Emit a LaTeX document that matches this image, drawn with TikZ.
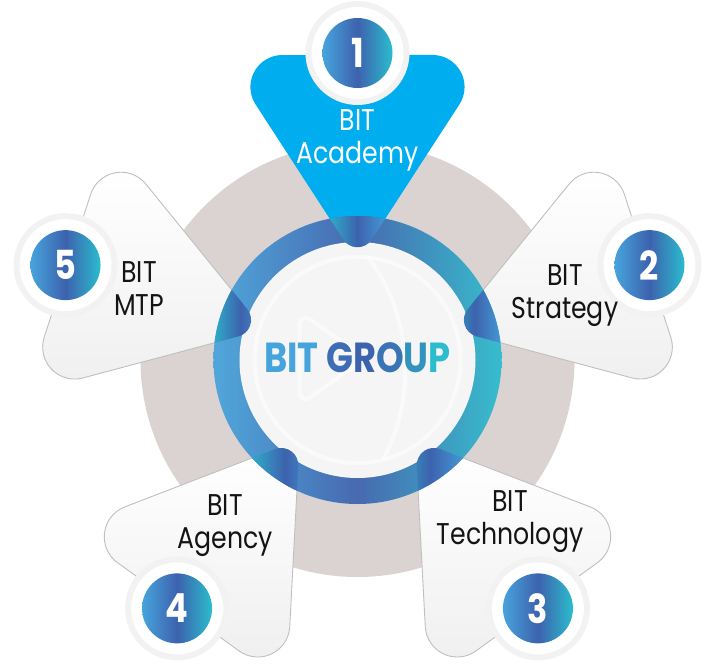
\documentclass[tikz,border=0pt]{standalone}
\usepackage{fontspec}
\setmainfont{Poppins}[FakeStretch=0.84]
\usetikzlibrary{positioning,calc}

\definecolor{discgray}{HTML}{DAD3D2}
\definecolor{academyblue}{HTML}{00AEEF}
\definecolor{bitlight}{HTML}{46A4DC}
\definecolor{bitdeep}{HTML}{3D62AE}
\definecolor{bitcyan}{HTML}{2BBCCD}
\definecolor{innerwhite}{HTML}{F5F5F5}

% one petal, pointing up, tip towards the centre
\newcommand{\petalshape}{(75.07,305) arc[start angle=90,end angle=-33,radius=32]
  -- (14.25,120.46) arc[start angle=-33,end angle=-147,radius=17]
  -- (-101.92,255.57) arc[start angle=213,end angle=90,radius=32] -- cycle}

\tikzset{
  petallabel/.style={align=center, font=\fontsize{30}{33}\selectfont, text=black!92},
  badgenum/.style={font=\fontsize{40}{40}\selectfont\bfseries, text=white},
}

\begin{document}
\begin{tikzpicture}[x=1pt,y=1pt]
\useasboundingbox (-357.5,-310) rectangle (350.5,360);

\fill[discgray] (0,0) circle (217);

% petals
\foreach \k in {2,...,5}{
  \begin{scope}[rotate={-72*(\k-1)}]
    \shade[draw=black!25, line width=0.9pt, top color=white, bottom color=black!6] \petalshape;
  \end{scope}
}
\fill[academyblue] \petalshape;

% ring and inner disc
\shade[left color=bitlight, right color=bitcyan, middle color=bitdeep, fill opacity=.93] (0,0) circle (144);
\fill[innerwhite] (0,0) circle (118);
\begin{scope}[white, line width=4, opacity=.55]
  \draw (0,0) circle (103);
  \draw (10,103) .. controls (60,40) and (55,-50) .. (25,-100);
  \draw[rounded corners=14] (-58,48) -- (8,2) -- (-58,-45) -- cycle;
\end{scope}

% tabs where the petals cross the ring
\foreach \k in {1,...,5}{
  \begin{scope}[rotate={-72*(\k-1)}]
    \clip (0,0) circle (144);
    \clip \petalshape;
    \shade[left color=bitcyan, right color=bitlight, middle color=bitdeep] (-34,100) rectangle (34,146);
  \end{scope}
}

\node (group) at (0,2) {\fontsize{42}{42}\selectfont\bfseries
  \textcolor{bitlight}{BIT}
  \textcolor{bitdeep!85!bitlight}{G}\textcolor{bitdeep}{R}\textcolor{bitdeep!80!bitcyan}{O}\textcolor{bitdeep!45!bitcyan}{U}\textcolor{bitcyan}{P}};

% numbered badges
\foreach \k/\a in {1/90,2/18,3/-54,4/-126,5/162}{
  \fill[black!5] (\a:307) circle (52);
  \fill[white] (\a:307) circle (46);
  \shade[left color=bitlight, right color=bitcyan, middle color=bitdeep] (\a:307) circle (35);
  \node[badgenum] (badge\k) at (\a:307) {\k};
}

\node[petallabel, text=white] (academy) at (0,220) {BIT\\Academy};
\node[petallabel] (strategy) at (207.5,64) {BIT\\Strategy};
\node[petallabel] (technology) at (152.5,-162) {BIT\\Technology};
\node[petallabel] (agency) at (-132.5,-166) {BIT\\Agency};
\node[petallabel] (mtp) at (-218.5,71) {BIT\\MTP};

\end{tikzpicture}
\end{document}
